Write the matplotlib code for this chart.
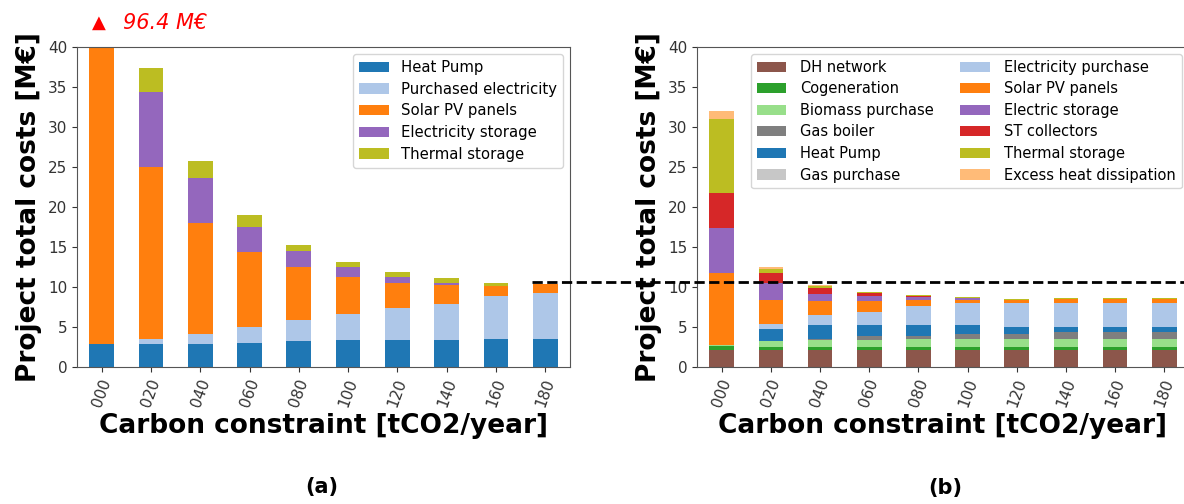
import numpy as np
import matplotlib.pyplot as plt

plt.rcParams['font.family'] = ['DejaVu Sans']

labels = ['000', '020', '040', '060', '080', '100', '120', '140', '160', '180']

# panel (a) - cost components [M EUR]
a_names = ['Heat Pump', 'Purchased electricity', 'Solar PV panels',
           'Electricity storage', 'Thermal storage']
a_colors = ['#1f77b4', '#aec7e8', '#ff7f0e', '#9467bd', '#bcbd22']
a_heat_pump = [2.8, 2.8, 2.8, 3.0, 3.17, 3.33, 3.33, 3.33, 3.5, 3.5]
a_purchased = [0.0, 0.66, 1.24, 2.0, 2.73, 3.27, 4.07, 4.57, 5.4, 5.75]
a_solar_pv = [93.6, 21.54, 13.86, 9.3, 6.6, 4.65, 3.1, 2.3, 1.2, 1.05]
a_elec_storage = [0.0, 9.3, 5.7, 3.2, 2.0, 1.25, 0.75, 0.3, 0.0, 0.0]
a_thermal = [0.0, 3.0, 2.1, 1.4, 0.7, 0.6, 0.55, 0.6, 0.4, 0.1]
a_total_000 = 96.4

# panel (b) - cost components [M EUR]
b_names = ['DH network', 'Cogeneration', 'Biomass purchase', 'Gas boiler',
           'Heat Pump', 'Gas purchase', 'Electricity purchase', 'Solar PV panels',
           'Electric storage', 'ST collectors', 'Thermal storage',
           'Excess heat dissipation']
b_colors = ['#8c564b', '#2ca02c', '#98df8a', '#7f7f7f', '#1f77b4', '#c7c7c7',
            '#aec7e8', '#ff7f0e', '#9467bd', '#d62728', '#bcbd22', '#ffbb78']
b_dh = [2.1, 2.1, 2.1, 2.1, 2.1, 2.1, 2.1, 2.1, 2.1, 2.1]
b_cogen = [0.45, 0.4, 0.4, 0.4, 0.4, 0.4, 0.4, 0.4, 0.4, 0.4]
b_biomass = [0.15, 0.7, 0.9, 0.9, 1.0, 1.0, 1.0, 1.0, 1.0, 1.0]
b_gas_boiler = [0.0, 0.0, 0.05, 0.5, 0.3, 0.6, 0.6, 0.8, 0.8, 0.8]
b_heat_pump = [0.0, 1.5, 1.8, 1.3, 1.4, 1.1, 0.9, 0.7, 0.7, 0.7]
b_gas_purchase = [0.0, 0.0, 0.0, 0.0, 0.0, 0.0, 0.0, 0.0, 0.0, 0.0]
b_elec_purchase = [0.0, 0.7, 1.25, 1.6, 2.4, 2.8, 3.0, 3.0, 3.0, 3.0]
b_solar_pv = [9.0, 3.0, 1.7, 1.4, 0.8, 0.4, 0.3, 0.45, 0.45, 0.45]
b_elec_storage = [5.6, 2.1, 0.9, 0.7, 0.35, 0.15, 0.0, 0.0, 0.0, 0.0]
b_st_collectors = [4.45, 1.2, 0.7, 0.3, 0.15, 0.0, 0.0, 0.0, 0.0, 0.0]
b_thermal = [9.15, 0.55, 0.3, 0.1, 0.1, 0.15, 0.2, 0.15, 0.15, 0.15]
b_excess = [1.1, 0.15, 0.1, 0.0, 0.0, 0.0, 0.0, 0.0, 0.0, 0.0]

threshold = 10.6

a_series = [a_heat_pump, a_purchased, a_solar_pv, a_elec_storage, a_thermal]
b_series = [b_dh, b_cogen, b_biomass, b_gas_boiler, b_heat_pump, b_gas_purchase,
            b_elec_purchase, b_solar_pv, b_elec_storage, b_st_collectors,
            b_thermal, b_excess]


def stacked(ax, series, names, colors):
    x = np.arange(len(labels))
    bottom = np.zeros(len(labels))
    for vals, name, col in zip(series, names, colors):
        ax.bar(x, vals, 0.5, bottom=bottom, color=col, label=name)
        bottom += np.array(vals)
    ax.set_xlim(-0.5, len(labels) - 0.5)
    ax.set_ylim(0, 40)
    ax.set_xticks(x)
    ax.set_xticklabels(labels, rotation=70)
    ax.tick_params(labelsize=11, colors='#333333')
    for s in ax.spines.values():
        s.set_color('#555555')
    ax.set_xlabel('Carbon constraint [tCO2/year]', fontsize=19, fontweight='bold',
                  labelpad=3)
    ax.set_ylabel('Project total costs [M€]', fontsize=19, fontweight='bold',
                  labelpad=4)


fig = plt.figure(figsize=(11.84, 5.04), dpi=100)
ax1 = fig.add_axes([0.065, 0.2724, 0.4164, 0.635])
ax2 = fig.add_axes([0.5887, 0.2724, 0.4155, 0.635])

stacked(ax1, a_series, a_names, a_colors)
ax1.legend(loc='upper right', fontsize=10.7, labelspacing=0.45)

stacked(ax2, b_series, b_names, b_colors)
ax2.legend(loc='upper right', ncol=2, fontsize=10.5, labelspacing=0.45,
           columnspacing=1.8, handletextpad=1.0)

# total of the clipped first bar
fig.text(0.078, 0.955, '▲', color='red', fontsize=13, ha='left', va='center')
fig.text(0.104, 0.955, f'{a_total_000} M€', color='red', fontsize=15,
         style='italic', ha='left', va='center')

# dashed reference line spanning both panels
ax2.axhline(threshold, xmin=-0.335, xmax=1, color='black', ls='--', lw=2,
            clip_on=False, zorder=5)

fig.text(0.272, 0.033, '(a)', fontsize=15, fontweight='bold', ha='center', va='center')
fig.text(0.798, 0.031, '(b)', fontsize=15, fontweight='bold', ha='center', va='center')

fig.savefig('out.png', dpi=100)
